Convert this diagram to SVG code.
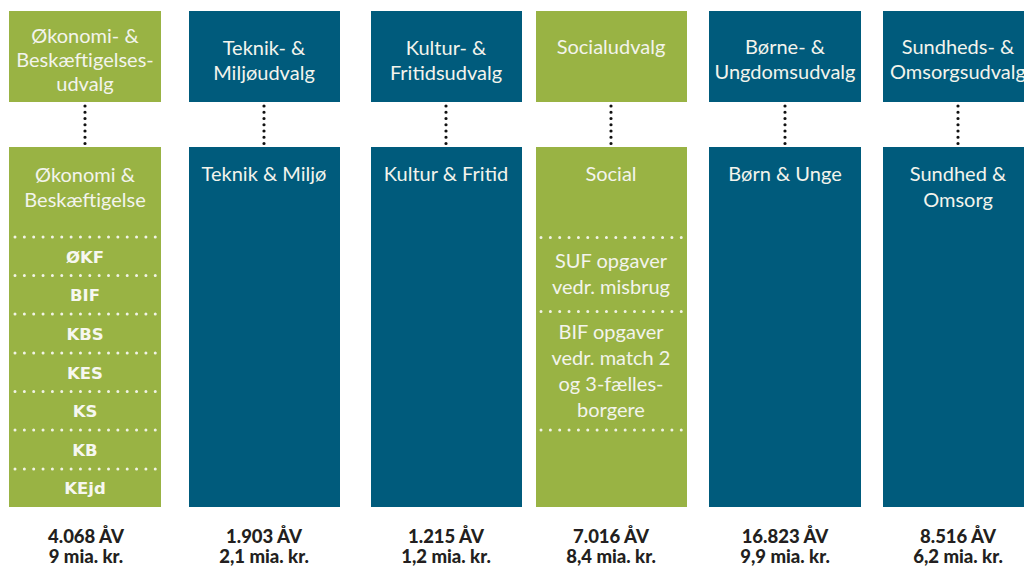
<svg xmlns="http://www.w3.org/2000/svg" width="1024" height="567" viewBox="0 0 1024 567">
<style>
.g{fill:#99b344}
.b{fill:#005b7c}
.t{font-family:Lato,"Open Sans","Liberation Sans",sans-serif;font-size:20px;fill:#f3f4ec;text-anchor:middle}
.k{font-family:"DejaVu Sans","Liberation Sans",sans-serif;font-size:16.5px;font-weight:bold;fill:#f6f7f0;text-anchor:middle}
.n{font-family:Lato,"Liberation Sans",sans-serif;font-size:18.5px;font-weight:900;fill:#231f20;text-anchor:middle}
.sep{stroke:#f2f4e6;stroke-width:3;stroke-linecap:round;stroke-dasharray:0 9.35;fill:none}
.con{stroke:#111;stroke-width:3.2;stroke-linecap:round;stroke-dasharray:0 6.25;fill:none}
</style>
<rect width="1024" height="567" fill="#ffffff"/>
<g id="connectors">
<line class="con" x1="85" y1="106" x2="85" y2="144"/>
<line class="con" x1="264" y1="106" x2="264" y2="144"/>
<line class="con" x1="446" y1="106" x2="446" y2="144"/>
<line class="con" x1="611" y1="106" x2="611" y2="144"/>
<line class="con" x1="785" y1="106" x2="785" y2="144"/>
<line class="con" x1="958" y1="106" x2="958" y2="144"/>
</g>
<g id="udvalg-oekonomi">
<rect class="g" x="9" y="11" width="152" height="91"/>
<text class="t" x="85" y="43">Økonomi- &amp;</text>
<text class="t" x="85" y="67">Beskæftigelses-</text>
<text class="t" x="85" y="91">udvalg</text>
</g>
<g id="udvalg-teknik">
<rect class="b" x="189" y="11" width="151" height="91"/>
<text class="t" x="264" y="55">Teknik- &amp;</text>
<text class="t" x="264" y="80">Miljøudvalg</text>
</g>
<g id="udvalg-kultur">
<rect class="b" x="371" y="11" width="151" height="91"/>
<text class="t" x="446" y="55">Kultur- &amp;</text>
<text class="t" x="446" y="80">Fritidsudvalg</text>
</g>
<g id="udvalg-social">
<rect class="g" x="536" y="11" width="151" height="91"/>
<text class="t" x="611" y="54">Socialudvalg</text>
</g>
<g id="udvalg-boerne">
<rect class="b" x="709" y="11" width="152" height="91"/>
<text class="t" x="785" y="54">Børne- &amp;</text>
<text class="t" x="785" y="79">Ungdomsudvalg</text>
</g>
<g id="udvalg-sundhed">
<rect class="b" x="883" y="11" width="151" height="91"/>
<text class="t" x="958" y="54">Sundheds- &amp;</text>
<text class="t" x="958" y="79">Omsorgsudvalg</text>
</g>
<g id="omr-oekonomi">
<rect class="g" x="9" y="147" width="152" height="360"/>
<text class="t" x="85" y="182">Økonomi &amp;</text>
<text class="t" x="85" y="207">Beskæftigelse</text>
<line class="sep" x1="15" y1="237" x2="156" y2="237"/>
<line class="sep" x1="15" y1="275.5" x2="156" y2="275.5"/>
<line class="sep" x1="15" y1="314" x2="156" y2="314"/>
<line class="sep" x1="15" y1="353" x2="156" y2="353"/>
<line class="sep" x1="15" y1="391.5" x2="156" y2="391.5"/>
<line class="sep" x1="15" y1="430" x2="156" y2="430"/>
<line class="sep" x1="15" y1="469" x2="156" y2="469"/>
<text class="k" x="85" y="262.5">ØKF</text>
<text class="k" x="85" y="301">BIF</text>
<text class="k" x="85" y="339.5">KBS</text>
<text class="k" x="85" y="378.5">KES</text>
<text class="k" x="85" y="417">KS</text>
<text class="k" x="85" y="455.5">KB</text>
<text class="k" x="85" y="494">KEjd</text>
</g>
<g id="omr-teknik">
<rect class="b" x="189" y="147" width="151" height="360"/>
<text class="t" x="264" y="181">Teknik &amp; Miljø</text>
</g>
<g id="omr-kultur">
<rect class="b" x="371" y="147" width="151" height="360"/>
<text class="t" x="446" y="181">Kultur &amp; Fritid</text>
</g>
<g id="omr-social">
<rect class="g" x="536" y="147" width="151" height="360"/>
<text class="t" x="611" y="181">Social</text>
<line class="sep" x1="541" y1="237.5" x2="682" y2="237.5"/>
<line class="sep" x1="541" y1="311.5" x2="682" y2="311.5"/>
<line class="sep" x1="541" y1="430" x2="682" y2="430"/>
<text class="t" x="611" y="268">SUF opgaver</text>
<text class="t" x="611" y="294">vedr. misbrug</text>
<text class="t" x="611" y="339">BIF opgaver</text>
<text class="t" x="611" y="365">vedr. match 2</text>
<text class="t" x="611" y="391">og 3-fælles-</text>
<text class="t" x="611" y="417">borgere</text>
</g>
<g id="omr-boern">
<rect class="b" x="709" y="147" width="152" height="360"/>
<text class="t" x="785" y="181">Børn &amp; Unge</text>
</g>
<g id="omr-sundhed">
<rect class="b" x="883" y="147" width="151" height="360"/>
<text class="t" x="958" y="181">Sundhed &amp;</text>
<text class="t" x="958" y="207">Omsorg</text>
</g>
<g id="tal">
<text class="n" x="86" y="543">4.068 ÅV</text>
<text class="n" x="86" y="563">9 mia. kr.</text>
<text class="n" x="264" y="543">1.903 ÅV</text>
<text class="n" x="264" y="563">2,1 mia. kr.</text>
<text class="n" x="446" y="543">1.215 ÅV</text>
<text class="n" x="446" y="563">1,2 mia. kr.</text>
<text class="n" x="611" y="543">7.016 ÅV</text>
<text class="n" x="611" y="563">8,4 mia. kr.</text>
<text class="n" x="785" y="543">16.823 ÅV</text>
<text class="n" x="785" y="563">9,9 mia. kr.</text>
<text class="n" x="958" y="543">8.516 ÅV</text>
<text class="n" x="958" y="563">6,2 mia. kr.</text>
</g>
</svg>
